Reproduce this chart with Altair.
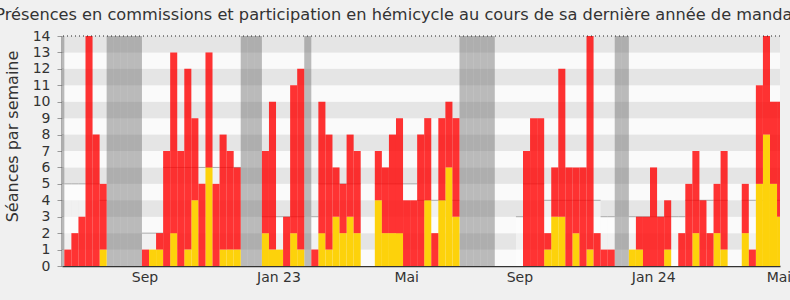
import altair as alt
import pandas as pd

# ---- data (one entry per week, index 0..101) ----
total = [1, 2, 3, 14, 8, 5,
         0, 0, 0, 0, 0,
         1, 1, 2, 7, 13, 7, 12, 9, 5, 13, 5, 8, 7, 6,
         0, 0, 0,
         7, 10, 1, 3, 11, 12,
         0,
         1, 10, 8, 6, 5, 8, 7, 0, 0, 7, 6, 8, 9, 4, 4,
         8, 9, 2, 9, 10, 9,
         0, 0, 0, 0, 0, 0, 0, 0, 0,
         7, 9, 9, 2, 6, 12, 6, 6, 6, 14, 2, 1, 1,
         0, 0,
         1, 3, 3, 6, 3, 4, 0, 2, 5, 7, 4, 2, 5, 7, 0, 0, 5, 1, 11, 14, 10, 10]
commission = [0, 0, 0, 0, 0, 1,
              0, 0, 0, 0, 0,
              0, 1, 1, 0, 2, 0, 1, 4, 0, 6, 0, 1, 1, 1,
              0, 0, 0,
              2, 1, 1, 0, 2, 1,
              0,
              0, 2, 1, 3, 2, 3, 2, 0, 0, 4, 2, 2, 2, 0, 0,
              0, 4, 0, 4, 6, 3,
              0, 0, 0, 0, 0, 0, 0, 0, 0,
              0, 0, 0, 1, 3, 3, 0, 2, 0, 1, 0, 0, 0,
              0, 0,
              1, 1, 0, 0, 0, 1, 0, 0, 0, 2, 0, 0, 2, 1, 0, 0, 2, 0, 5, 8, 5, 3]
median = [5, 5, 5, 5, 5, 4,
          0, 0, 0, 0, 0,
          2, 2, 2, 6, 6, 6, 6, 6, 6, 6, 6, 6, 6, 6,
          0, 0, 0,
          3, 3, 3, 3, 3, 3,
          0,
          3, 5, 5, 5, 5, 5, 5, 0, 0, 5, 5, 5, 5, 5, 5,
          4, 4, 4, 4, 4, 4,
          0, 0, 0, 0, 0, 0, 0, 0, 3,
          5, 5, 5, 4, 4, 4, 4, 4, 4, 4, 4, 3, 3,
          0, 0,
          3, 3, 3, 3, 3, 3, 3, 3, 4, 4, 4, 4, 4, 4, 0, 0, 4, 4, 4, 4, 4, 4]
vacation_weeks = [-1, 6, 7, 8, 9, 10, 25, 26, 27, 34, 56, 57, 58, 59, 60, 78, 79]
tick_positions = [11.37, 30.35, 48.45, 64.48, 83.46, 101.2]
tick_labels = ["Sep", "Jan 23", "Mai", "Sep", "Jan 24", "Mai"]
y_ticks = list(range(0, 15))

FONT = "DejaVu Sans"
weeks = list(range(len(total)))
df = pd.DataFrame({"week": weeks, "total": total, "commission": commission, "median": median})
df["week_end"] = df["week"] + 1
med_df = df[df["median"] > 0]
vac_df = pd.DataFrame({"week": vacation_weeks})
vac_df["week_end"] = vac_df["week"] + 1
stripe_df = pd.DataFrame({"lo": list(range(14))})
stripe_df["hi"] = stripe_df["lo"] + 1
stripe_df["shade"] = ["g" if v % 2 == 1 else "w" for v in stripe_df["lo"]]
top_df = pd.DataFrame({"v": [14]})

xs = alt.Scale(domain=[-0.33, 101.42], nice=False, zero=False)
ys = alt.Scale(domain=[0, 14], nice=False, zero=True)

label_expr = ""
for p, l in zip(tick_positions, tick_labels):
    label_expr += f"datum.value == {p} ? '{l}' : "
label_expr += "''"

X_AX = alt.Axis(values=tick_positions, labelExpr=label_expr, ticks=False, grid=False,
                domainColor="#333333", domainWidth=1.5, labelFontSize=14, labelColor="#333333",
                labelFont=FONT, labelPadding=4, labelFlush=False, labelOverlap=False, title=None)
Y_AX = alt.Axis(values=y_ticks, grid=False, tickColor="#999999", tickSize=5, domainColor="#666666",
                domainWidth=2, labelFontSize=14, labelColor="#333333", labelFont=FONT, labelPadding=7,
                title="Séances par semaine", titleFont=FONT, titleFontSize=16, titleFontWeight="normal",
                titleColor="#333333", titleX=-42, titleY=100)

stripes = alt.Chart(stripe_df).mark_rect().encode(
    x=alt.value(0), x2=alt.value("width"),
    y=alt.Y("lo:Q", scale=ys, axis=Y_AX), y2="hi:Q",
    color=alt.Color("shade:N", scale=alt.Scale(domain=["g", "w"], range=["#e5e5e5", "#fafafa"]), legend=None),
)

med_fill = alt.Chart(med_df).mark_rect(color="white", opacity=0.45, clip=True).encode(
    x=alt.X("week:Q", scale=xs, axis=X_AX), x2="week_end:Q",
    y=alt.Y("median:Q", scale=ys, axis=Y_AX), y2=alt.datum(0),
)
med_line = alt.Chart(med_df).mark_rule(color="#aaaaaa", strokeWidth=1, clip=True).encode(
    x=alt.X("week:Q", scale=xs, axis=X_AX), x2="week_end:Q",
    y=alt.Y("median:Q", scale=ys, axis=Y_AX),
)

vac = alt.Chart(vac_df).mark_rect(color="#666666", opacity=0.43, clip=True).encode(
    x=alt.X("week:Q", scale=xs, axis=X_AX), x2="week_end:Q",
    y=alt.value(0), y2=alt.value("height"),
)

yellow = alt.Chart(df).mark_rect(color="#fdd20b", clip=True).encode(
    x=alt.X("week:Q", scale=xs, axis=X_AX), x2="week_end:Q",
    y=alt.Y("commission:Q", scale=ys, axis=Y_AX), y2=alt.datum(0),
)

red = alt.Chart(df).mark_rect(color="#ff0000", opacity=0.8, clip=True).encode(
    x=alt.X("week:Q", scale=xs, axis=X_AX), x2="week_end:Q",
    y=alt.Y("total:Q", scale=ys, axis=Y_AX), y2="commission:Q",
)

top = alt.Chart(top_df).mark_rule(color="#222222", strokeDash=[1, 3], strokeWidth=1).encode(
    y=alt.Y("v:Q", scale=ys, axis=Y_AX)
)

chart = alt.layer(stripes, med_fill, med_line, vac, yellow, red, top).properties(
    width=718, height=230,
    autosize=alt.AutoSizeParams(type="none"),
    padding={"left": 62, "top": 36, "right": 10, "bottom": 34},
    background="#f0f0f0",
    title=alt.Title("Présences en commissions et participation en hémicycle au cours de sa dernière année de mandat",
                    font=FONT, fontSize=16.2, fontWeight="normal", color="#333333",
                    anchor="middle", frame="group", offset=6, dx=-24),
).configure_view(stroke=None)

chart.save("out.html", embed_options={"renderer": "svg", "actions": False})
